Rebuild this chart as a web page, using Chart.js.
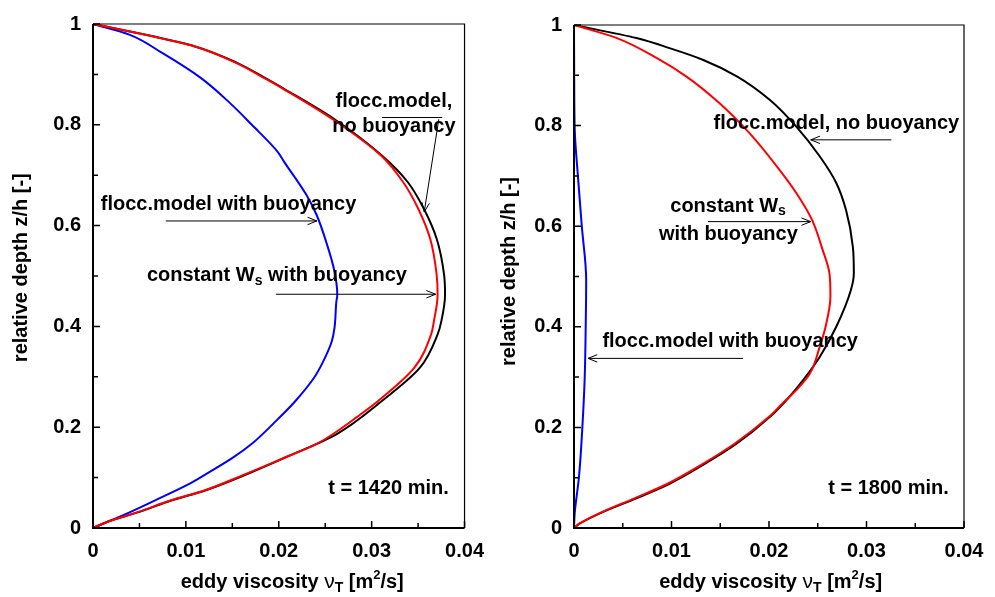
<!DOCTYPE html>
<html>
<head>
<meta charset="utf-8">
<script src="https://cdn.jsdelivr.net/npm/chart.js@4/dist/chart.umd.min.js"></script>
<style>
  body { margin: 0; background: #fff; }
  #left { position: absolute; left: 0; top: 0; }
  #right { position: absolute; left: 495px; top: 0; }
</style>
</head>
<body>
<canvas id="left" width="495" height="597"></canvas>
<canvas id="right" width="500" height="597"></canvas>
<script>
// ---- left panel, t = 1420 min ----
var leftNoBuoyZ = [1, 0.976, 0.956, 0.923, 0.890, 0.870, 0.811, 0.739, 0.686, 0.634, 0.574, 0.502, 0.463, 0.41, 0.384, 0.318, 0.252, 0.186, 0.147, 0.107, 0.074, 0.055, 0.032, 0.012, 0];
var leftNoBuoyV = [0, 0.0063, 0.0109, 0.0155, 0.0188, 0.0207, 0.0260, 0.0311, 0.0339, 0.0356, 0.0370, 0.0378, 0.0379, 0.0375, 0.0371, 0.0352, 0.0311, 0.0262, 0.0216, 0.0166, 0.0120, 0.0085, 0.0050, 0.0015, 0];
var leftConstWsZ = [1, 0.976, 0.956, 0.923, 0.890, 0.870, 0.811, 0.739, 0.686, 0.634, 0.574, 0.502, 0.463, 0.41, 0.384, 0.318, 0.252, 0.22, 0.186, 0.167, 0.134, 0.107, 0.074, 0.055, 0.032, 0.012, 0];
var leftConstWsV = [0, 0.0063, 0.0109, 0.0154, 0.0187, 0.0206, 0.0258, 0.0310, 0.0334, 0.0350, 0.0363, 0.0370, 0.0371, 0.0367, 0.0364, 0.0346, 0.0307, 0.0284, 0.0258, 0.0241, 0.0199, 0.0164, 0.0119, 0.0084, 0.0049, 0.0015, 0];
var leftFloccBuoyZ = [1, 0.979, 0.943, 0.893, 0.844, 0.8, 0.746, 0.726, 0.66, 0.62, 0.568, 0.509, 0.463, 0.449, 0.397, 0.37, 0.331, 0.298, 0.25, 0.216, 0.167, 0.14, 0.104, 0.086, 0.055, 0.025, 0];
var leftFloccBuoyV = [0, 0.0039, 0.0074, 0.0116, 0.0147, 0.0171, 0.0199, 0.0206, 0.0230, 0.0241, 0.0251, 0.0260, 0.0263, 0.0262, 0.0260, 0.0257, 0.0248, 0.0238, 0.0217, 0.0199, 0.0171, 0.0151, 0.0119, 0.0102, 0.0067, 0.0032, 0];

// ---- right panel, t = 1800 min ----
var rightNoBuoyZ = [1, 0.974, 0.954, 0.931, 0.898, 0.851, 0.798, 0.739, 0.686, 0.632, 0.559, 0.506, 0.473, 0.4, 0.34, 0.294, 0.261, 0.221, 0.168, 0.125, 0.088, 0.059, 0.032, 0.009, 0];
var rightNoBuoyV = [0, 0.0064, 0.0098, 0.0132, 0.0167, 0.0201, 0.0228, 0.0252, 0.0269, 0.0279, 0.0286, 0.0287, 0.0284, 0.0269, 0.0252, 0.0235, 0.0221, 0.0201, 0.0167, 0.0132, 0.0098, 0.0064, 0.0030, 0.0006, 0];
var rightConstWsZ = [1, 0.974, 0.934, 0.898, 0.845, 0.785, 0.719, 0.666, 0.613, 0.553, 0.506, 0.46, 0.4, 0.36, 0.307, 0.274, 0.248, 0.221, 0.168, 0.125, 0.088, 0.059, 0.032, 0.009, 0];
var rightConstWsV = [0, 0.0044, 0.0085, 0.0115, 0.0149, 0.0180, 0.0208, 0.0228, 0.0244, 0.0255, 0.0262, 0.0263, 0.0258, 0.0252, 0.0242, 0.0228, 0.0214, 0.0200, 0.0165, 0.0130, 0.0096, 0.0062, 0.0029, 0.0006, 0];
var rightFloccBuoyZ = [1, 0.9, 0.79, 0.7, 0.6, 0.493, 0.4, 0.3, 0.201, 0.1015, 0.029, 0];
var rightFloccBuoyV = [0, 0.00002, 0.00008, 0.0004, 0.0008, 0.00125, 0.0012, 0.0011, 0.00086, 0.00051, 0.00007, 0];

var xTicks = [0, 0.01, 0.02, 0.03, 0.04];
var yTicks = [0, 0.2, 0.4, 0.6, 0.8, 1];

var FONT = '"Liberation Sans", Arial, Helvetica, sans-serif';

function pts(vs, zs) {
  return vs.map(function (v, i) { return { x: v, y: zs[i] }; });
}

// profiles are single valued in depth, so interpolate along y
function line(data, color) {
  return { data: data, showLine: true, borderColor: color, borderWidth: 2,
           pointRadius: 0, indexAxis: 'y', cubicInterpolationMode: 'monotone', fill: false };
}

function fnt(p) {
  return (p.weight || 'bold') + ' ' + (p.size || 20) + 'px ' + FONT;
}

// draw a run of text pieces (for sub/superscripts), centred at cx,cy
function drawRich(ctx, parts, cx, cy) {
  var w = 0;
  parts.forEach(function (p) { ctx.font = fnt(p); w += ctx.measureText(p.t).width; });
  var x = cx - w / 2;
  parts.forEach(function (p) {
    ctx.font = fnt(p);
    ctx.fillText(p.t, x, cy + (p.dy || 0));
    x += ctx.measureText(p.t).width;
  });
}

function arrow(ctx, x1, y1, x2, y2, head) {
  ctx.beginPath();
  ctx.moveTo(x1, y1);
  ctx.lineTo(x2, y2);
  if (head) {
    var a = Math.atan2(y2 - y1, x2 - x1), L = 10, s = 0.38;
    ctx.moveTo(x2 - L * Math.cos(a - s), y2 - L * Math.sin(a - s));
    ctx.lineTo(x2, y2);
    ctx.lineTo(x2 - L * Math.cos(a + s), y2 - L * Math.sin(a + s));
  }
  ctx.stroke();
}

var notesPlugin = {
  id: 'notes',
  afterDraw: function (chart, args, o) {
    var ctx = chart.ctx, ca = chart.chartArea;
    var xs = chart.scales.x, ys = chart.scales.y;
    ctx.save();
    ctx.strokeStyle = '#000';
    ctx.fillStyle = '#000';
    ctx.lineCap = 'butt';

    // frame
    ctx.lineWidth = 1.2;
    ctx.beginPath();
    ctx.moveTo(ca.left, ca.top); ctx.lineTo(ca.right, ca.top); ctx.lineTo(ca.right, ca.bottom);
    ctx.stroke();
    ctx.lineWidth = 2;
    ctx.beginPath();
    ctx.moveTo(ca.left, ca.top); ctx.lineTo(ca.left, ca.bottom); ctx.lineTo(ca.right, ca.bottom);
    ctx.stroke();

    // inward ticks, majors and minors
    ctx.lineWidth = 1.5;
    ctx.beginPath();
    for (var i = 0; i <= 10; i++) {
      var py = ys.getPixelForValue(i / 10);
      ctx.moveTo(ca.left, py); ctx.lineTo(ca.left + (i % 2 ? 5 : 7), py);
    }
    for (var j = 0; j <= 8; j++) {
      var px = xs.getPixelForValue(j * 0.005);
      ctx.moveTo(px, ca.bottom); ctx.lineTo(px, ca.bottom - (j % 2 ? 5 : 7));
    }
    ctx.stroke();

    // arrows
    ctx.lineWidth = 1;
    o.arrows.forEach(function (a) {
      arrow(ctx, xs.getPixelForValue(a.from[0]), ys.getPixelForValue(a.from[1]),
            xs.getPixelForValue(a.to[0]), ys.getPixelForValue(a.to[1]), a.head !== false);
    });

    // labels
    ctx.textBaseline = 'middle';
    ctx.textAlign = 'left';
    o.texts.forEach(function (t) {
      drawRich(ctx, t.parts, xs.getPixelForValue(t.x), ys.getPixelForValue(t.y));
    });

    // axis titles
    drawRich(ctx, [
      { t: 'eddy viscosity ' },
      { t: '\u03bd', weight: 'normal', size: 21 },
      { t: 'T', size: 14, dy: 6 },
      { t: ' [m' },
      { t: '2', size: 13, dy: -7 },
      { t: '/s]' }
    ], xs.getPixelForValue(o.xTitleAt), o.xTitleY);

    ctx.translate(o.yTitleX, ys.getPixelForValue(o.yTitleAt));
    ctx.rotate(-Math.PI / 2);
    drawRich(ctx, [{ t: 'relative depth z/h [-]' }], 0, 0);
    ctx.restore();
  }
};

function makeChart(id, sets, pad, yWidth, notes) {
  var tickFont = { family: FONT, size: 20, weight: 'bold' };
  return new Chart(document.getElementById(id), {
    type: 'scatter',
    data: { datasets: sets },
    plugins: [notesPlugin],
    options: {
      responsive: false,
      animation: false,
      devicePixelRatio: 1,
      layout: { padding: pad },
      plugins: { legend: { display: false }, tooltip: { enabled: false }, notes: notes },
      scales: {
        x: {
          type: 'linear', position: 'bottom', min: 0, max: 0.04,
          afterFit: function (s) { s.height = 69; },
          afterBuildTicks: function (s) { s.ticks = xTicks.map(function (v) { return { value: v }; }); },
          grid: { display: false, drawTicks: false },
          border: { display: false },
          ticks: { padding: 11, color: '#000', font: tickFont, maxRotation: 0,
                   callback: function (v) { return String(+v.toFixed(2)); } }
        },
        y: {
          type: 'linear', position: 'left', min: 0, max: 1,
          afterFit: function (s) { s.width = yWidth; },
          afterBuildTicks: function (s) { s.ticks = yTicks.map(function (v) { return { value: v }; }); },
          grid: { display: false, drawTicks: false },
          border: { display: false },
          ticks: { padding: 12, color: '#000', font: tickFont,
                   callback: function (v) { return String(+v.toFixed(1)); } }
        }
      }
    }
  });
}

var sub = function (t) { return { t: t, size: 14, dy: 5 }; };

makeChart('left', [
  line(pts(leftConstWsV, leftConstWsZ), '#ff0000'),
  line(pts(leftNoBuoyV, leftNoBuoyZ), '#000000'),
  line(pts(leftFloccBuoyV, leftFloccBuoyZ), '#0000ff')
], { left: 0, top: 21, right: 19, bottom: 0 }, 93, {
  texts: [
    { parts: [{ t: 'flocc.model,' }], x: 0.0324, y: 0.846 },
    { parts: [{ t: 'no buoyancy' }], x: 0.0324, y: 0.797 },
    { parts: [{ t: 'flocc.model with buoyancy' }], x: 0.01459, y: 0.6428 },
    { parts: [{ t: 'constant W' }, sub('s'), { t: ' with buoyancy' }], x: 0.0198, y: 0.5007 },
    { parts: [{ t: 't = 1420 min.' }], x: 0.03182, y: 0.0789 }
  ],
  arrows: [
    { from: [0.0311, 0.8145], to: [0.0376, 0.8145], head: false },
    { from: [0.03723, 0.811], to: [0.03566, 0.627] },
    { from: [0.00784, 0.6092], to: [0.02410, 0.6092] },
    { from: [0.01968, 0.4638], to: [0.03689, 0.4638] }
  ],
  xTitleAt: 0.02145, xTitleY: 582,
  yTitleX: 21.7, yTitleAt: 0.5165
});

makeChart('right', [
  line(pts(rightConstWsV, rightConstWsZ), '#ff0000'),
  line(pts(rightNoBuoyV, rightNoBuoyZ), '#000000'),
  line(pts(rightFloccBuoyV, rightFloccBuoyZ), '#0000ff')
], { left: 0, top: 25, right: 31, bottom: 0 }, 79, {
  texts: [
    { parts: [{ t: 'flocc.model, no buoyancy' }], x: 0.02691, y: 0.805 },
    { parts: [{ t: 'constant W' }, sub('s')], x: 0.0158, y: 0.639 },
    { parts: [{ t: 'with buoyancy' }], x: 0.01583, y: 0.5826 },
    { parts: [{ t: 'flocc.model with buoyancy' }], x: 0.01602, y: 0.3702 },
    { parts: [{ t: 't = 1800 min.' }], x: 0.03226, y: 0.0784 }
  ],
  arrows: [
    { from: [0.03255, 0.7717], to: [0.02428, 0.7717] },
    { from: [0.01374, 0.6091], to: [0.02428, 0.6091] },
    { from: [0.01733, 0.3372], to: [0.00144, 0.3372] }
  ],
  xTitleAt: 0.02017, xTitleY: 582,
  yTitleX: 14.5, yTitleAt: 0.51
});
</script>
</body>
</html>
